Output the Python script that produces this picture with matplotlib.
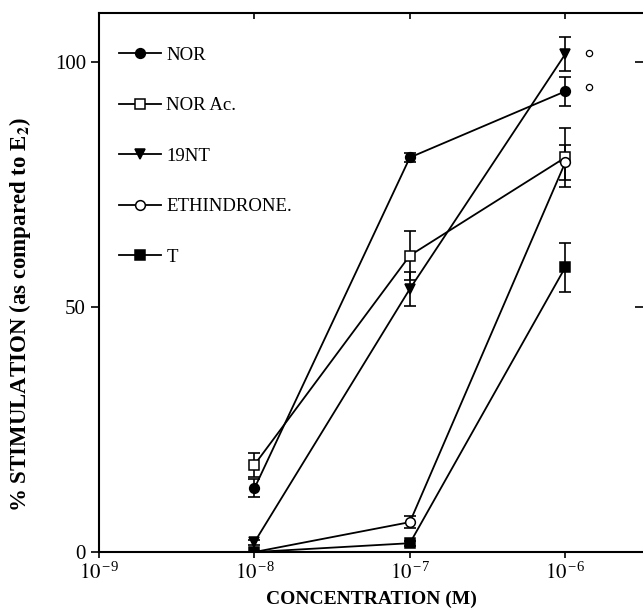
import matplotlib
matplotlib.use('Agg')
import matplotlib.pyplot as plt
from matplotlib.ticker import FixedLocator, NullLocator

plt.rcParams['font.family'] = ['Liberation Serif', 'DejaVu Serif']
plt.rcParams['mathtext.fontset'] = 'stix'

conc = [1e-8, 1e-7, 1e-6]

nor = [13.0, 80.5, 94.0]
nor_err = [1.8, 1.0, 3.0]

nor_ac = [17.8, 60.5, 80.5]
nor_ac_err = [2.5, 5.0, 6.0]

nt19 = [2.0, 53.7, 101.6]
nt19_err = [0.5, 3.5, 3.5]

ethindrone = [0.0, 6.1, 79.5]
ethindrone_err = [0.0, 1.3, 3.5]

t = [0.0, 1.8, 58.1]
t_err = [0.0, 0.5, 5.0]

sig_x = [1.42e-6, 1.42e-6]
sig_y = [101.8, 94.9]

xticks = [1e-9, 1e-8, 1e-7, 1e-6]
xticklabels = [r'$10^{\,\mathregular{-9}}$', r'$10^{\,\mathregular{-8}}$',
               r'$10^{\,\mathregular{-7}}$', r'$10^{\,\mathregular{-6}}$']
yticks = [0, 50, 100]

fig = plt.figure(figsize=(6.43, 6.15), dpi=100)
ax = fig.add_axes([0.154, 0.1024, 0.846, 0.8766])

series = [
  (nor, nor_err, 'o', 'black', 'NOR'),
  (nor_ac, nor_ac_err, 's', 'white', 'NOR Ac.'),
  (nt19, nt19_err, 'v', 'black', '19NT'),
  (ethindrone, ethindrone_err, 'o', 'white', 'ETHINDRONE.'),
  (t, t_err, 's', 'black', 'T'),
]

handles = []
for vals, errs, mk, fc, lab in series:
  ax.errorbar(conc, vals, yerr=errs, fmt='none', ecolor='black',
              elinewidth=1.2, capsize=4.5, capthick=1.2, zorder=2)
  h, = ax.plot(conc, vals, color='black', lw=1.3, marker=mk, ms=7,
               mfc=fc, mec='black', mew=1.1, label=lab, zorder=3)
  handles.append(h)

ax.plot(sig_x, sig_y, linestyle='none', marker='o', ms=4.5, mfc='white',
        mec='black', mew=0.9)

ax.set_xscale('log')
ax.set_xlim(1e-9, 10 ** -5.5)
ax.set_ylim(0, 110)
ax.xaxis.set_major_locator(FixedLocator(xticks))
ax.xaxis.set_minor_locator(NullLocator())
ax.set_xticklabels(xticklabels, fontsize=15)
ax.set_yticks(yticks)
ax.set_yticklabels([str(v) for v in yticks], fontsize=15)

ax.tick_params(axis='y', direction='out', length=6, width=1.2, right=True)
ax.tick_params(axis='x', direction='out', length=4, width=1.2, top=True)
for tk in ax.xaxis.get_major_ticks():
  tk.tick2line.set_marker(3)
for tk in ax.yaxis.get_major_ticks():
  tk.tick2line.set_marker(0)

ax.spines['right'].set_visible(False)
for s in ['left', 'top', 'bottom']:
  ax.spines[s].set_linewidth(1.5)

ax.set_xlabel('CONCENTRATION (M)', fontsize=14, fontweight='bold', labelpad=5)
ax.set_ylabel(r'% STIMULATION (as compared to E$_{\mathbf{2}}$)', fontsize=16.5,
              fontweight='bold')
ax.yaxis.set_label_coords(-0.122, 0.44)

ax.legend(handles=handles, loc='upper left', bbox_to_anchor=(0.01, 0.965),
          frameon=False, fontsize=13.5, labelspacing=1.78, handlelength=2.2,
          handletextpad=0.3, borderaxespad=0.4)

fig.savefig('out.png', dpi=100)
